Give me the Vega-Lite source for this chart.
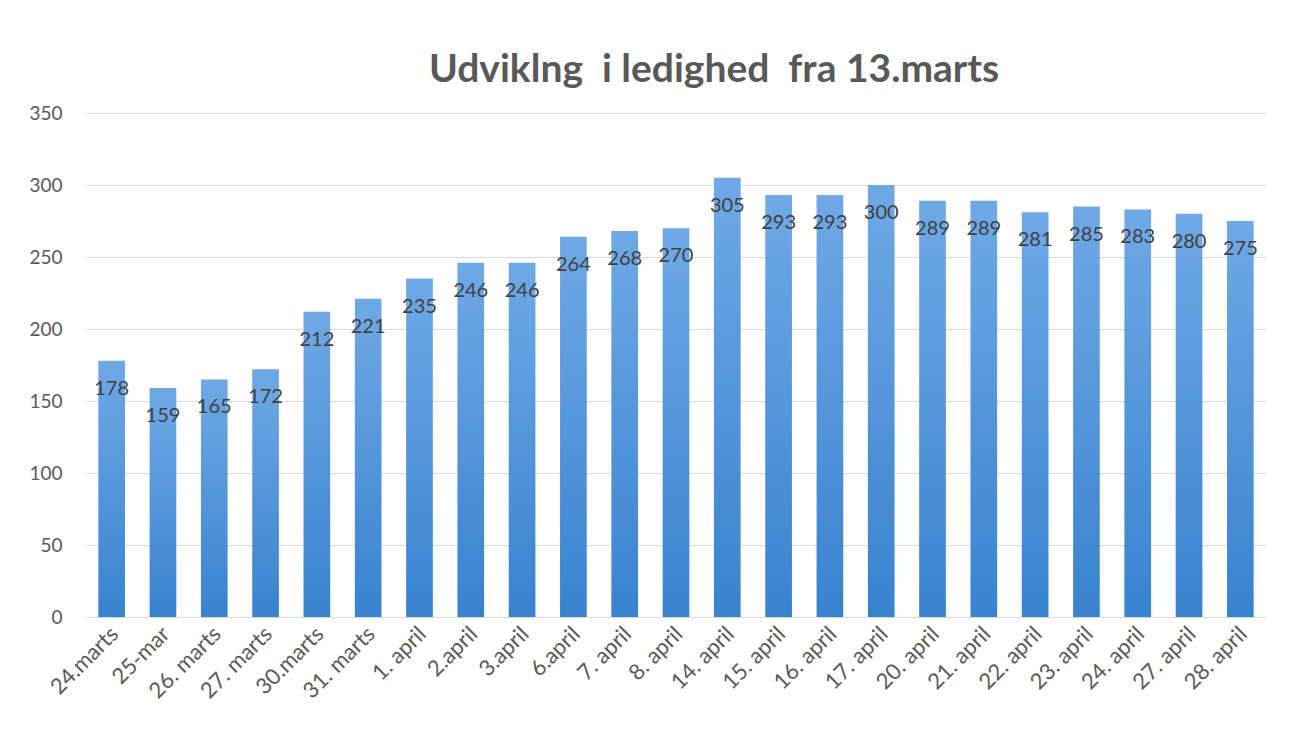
{
  "$schema": "https://vega.github.io/schema/vega-lite/v6.json",
  "autosize": {"type": "none"},
  "width": 1180,
  "height": 504,
  "padding": {"left": 86, "top": 113, "right": 26, "bottom": 118},
  "background": "white",
  "title": {
    "text": "Udviklng \u00a0i ledighed \u00a0fra 13.marts",
    "font": "Lato",
    "fontSize": 39,
    "fontWeight": "bold",
    "color": "#595959",
    "anchor": "middle",
    "frame": "group",
    "baseline": "alphabetic",
    "offset": -17,
    "dx": 38
  },
  "data": {
    "values": [
      {"dato": "24.marts", "ledige": 178},
      {"dato": "25-mar", "ledige": 159},
      {"dato": "26. marts", "ledige": 165},
      {"dato": "27. marts", "ledige": 172},
      {"dato": "30.marts", "ledige": 212},
      {"dato": "31. marts", "ledige": 221},
      {"dato": "1. april", "ledige": 235},
      {"dato": "2.april", "ledige": 246},
      {"dato": "3.april", "ledige": 246},
      {"dato": "6.april", "ledige": 264},
      {"dato": "7. april", "ledige": 268},
      {"dato": "8. april", "ledige": 270},
      {"dato": "14. april", "ledige": 305},
      {"dato": "15. april", "ledige": 293},
      {"dato": "16. april", "ledige": 293},
      {"dato": "17. april", "ledige": 300},
      {"dato": "20. april", "ledige": 289},
      {"dato": "21. april", "ledige": 289},
      {"dato": "22. april", "ledige": 281},
      {"dato": "23. april", "ledige": 285},
      {"dato": "24. april", "ledige": 283},
      {"dato": "27. april", "ledige": 280},
      {"dato": "28. april", "ledige": 275}
    ]
  },
  "encoding": {
    "x": {
      "field": "dato",
      "type": "nominal",
      "sort": null,
      "title": null,
      "scale": {"paddingInner": 0.48, "paddingOuter": 0.24},
      "axis": {
        "labelAngle": -45,
        "labelFont": "Lato",
        "labelFontSize": 22,
        "labelColor": "#595959",
        "labelPadding": 6,
        "labelOffset": -4,
        "ticks": false,
        "domainColor": "#d9d9d9",
        "domainWidth": 1
      }
    },
    "y": {
      "field": "ledige",
      "type": "quantitative",
      "title": null,
      "scale": {"domain": [0, 350], "nice": false},
      "axis": {
        "values": [0, 50, 100, 150, 200, 250, 300, 350],
        "labelFont": "Lato",
        "labelFontSize": 19,
        "labelColor": "#595959",
        "labelPadding": 24,
        "ticks": false,
        "domain": false,
        "gridColor": "#d9d9d9",
        "gridWidth": 1
      }
    }
  },
  "layer": [
    {
      "mark": {
        "type": "bar",
        "color": {
          "gradient": "linear",
          "x1": 0, "y1": 0, "x2": 0, "y2": 1,
          "stops": [
            {"offset": 0, "color": "#6fa9e6"},
            {"offset": 1, "color": "#3883cf"}
          ]
        }
      }
    },
    {
      "mark": {
        "type": "text",
        "baseline": "middle",
        "dy": 28,
        "font": "Lato",
        "fontSize": 20,
        "color": "#404040"
      },
      "encoding": {"text": {"field": "ledige", "type": "quantitative"}}
    }
  ],
  "config": {"view": {"stroke": null}}
}
